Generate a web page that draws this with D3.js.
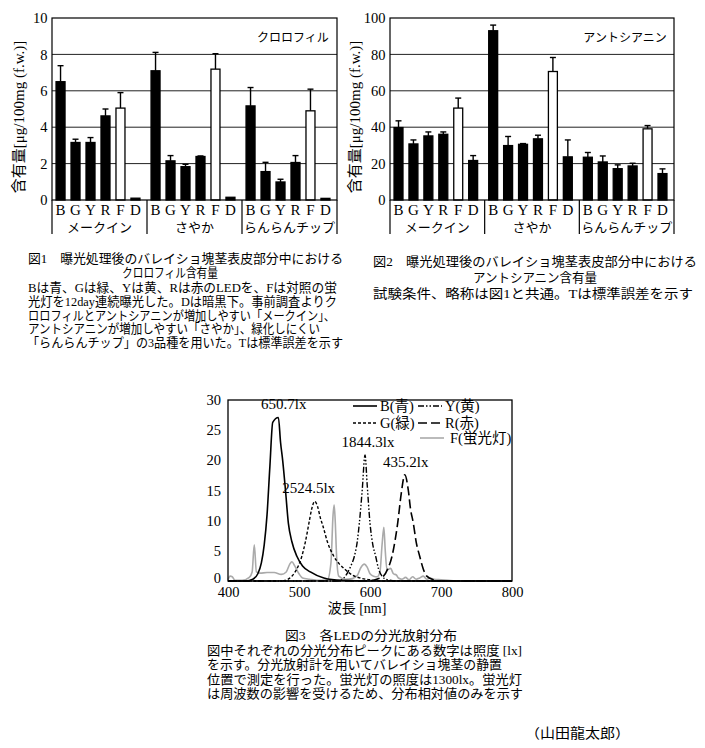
<!DOCTYPE html>
<html><head><meta charset="utf-8">
<script src="https://cdn.jsdelivr.net/npm/d3@7"></script>
<style>
body{margin:0;background:#fff;}
svg{display:block;}
text{fill:#000;}
</style></head>
<body>
<script>
// ---------- data ----------
const letters = ["B","G","Y","R","F","D"];
const varieties = ["メークイン","さやか","らんらんチップ"];

// chlorophyll µg/100mg f.w. (per variety, letters B G Y R F D)
const chlMean = [
  [6.5, 3.16, 3.16, 4.62, 5.05, 0.10],
  [7.1, 2.15, 1.83, 2.39, 7.19, 0.15],
  [5.17, 1.56, 0.99, 2.06, 4.9, 0.09]
];
const chlErr = [
  [0.88, 0.18, 0.27, 0.38, 0.85, 0],
  [1.01, 0.29, 0.13, 0.03, 0.85, 0],
  [1.01, 0.51, 0.15, 0.38, 1.19, 0]
];
// anthocyanin µg/100mg f.w.
const antMean = [
  [39.8, 30.8, 35.2, 36.1, 50.5, 21.7],
  [93.0, 29.9, 30.6, 33.6, 70.6, 23.7],
  [23.5, 20.9, 17.2, 18.7, 39.1, 14.5]
];
const antErr = [
  [3.7, 2.2, 2.2, 1.3, 5.5, 2.7],
  [3.1, 5.0, 0.4, 2.0, 7.7, 9.3],
  [2.6, 3.3, 2.1, 1.5, 1.8, 2.6]
];
const chlTicks = [0, 2, 4, 6, 8, 10];
const antTicks = [0, 20, 40, 60, 80, 100];

// spectral distribution [nm, relative value]
const specB = [[400,0],[425,0],[435,0.3],[442,1.2],[447,3],[451,6],[455,11],[459,19],[463,26.3],[471,27.1],[474,23],[477,20],[481,15],[485,9.6],[490,6.5],[497,4.1],[505,2.5],[516,1.5],[535,0.5],[560,0.1],[600,0],[800,0]];
const specG = [[400,0],[470,0],[480,0.1],[490,0.8],[497,2],[504,4.1],[509,6.5],[514,9.6],[518,12],[522,13.2],[526,12.4],[530,10.5],[534,9],[540,6.5],[549,4.1],[557,2.8],[565,1.9],[575,1.0],[586,0.5],[600,0.2],[620,0],[800,0]];
const specY = [[400,0],[550,0],[558,0.1],[567,1.1],[573,2.5],[578,4.1],[582,6.5],[585,9.6],[589,15],[593,20.9],[596,16],[600,9.6],[604,6],[608,4.1],[612,2],[617,0.8],[625,0.2],[640,0],[800,0]];
const specR = [[400,0],[590,0],[605,0.1],[612,0.4],[619,0.8],[625,2],[631,4.1],[635,6.5],[639,9.6],[644,14.5],[649,17.6],[654,15],[657,12],[661,9.6],[665,6.5],[670,4.1],[675,2],[680,0.8],[690,0.2],[700,0],[800,0]];
const specF = [[400,0.2],[403,0.8],[406,0.7],[410,0.1],[420,0.1],[430,0.6],[434,1.5],[437,6.0],[440,1.5],[445,1.3],[455,1.4],[465,1.4],[475,1.1],[482,1.5],[487,2.8],[490,3.2],[494,2.5],[500,1.2],[505,0.5],[515,0.3],[530,0.1],[540,0.2],[545,3],[548,11],[549.5,12.6],[551,10],[553,4],[556,0.8],[565,0.3],[575,0.4],[582,0.9],[587,2.2],[592,2.8],[596,2.3],[600,1.2],[605,0.8],[610,0.7],[614,1.5],[617,6],[619.5,8.9],[621.5,5],[624,1.8],[629,2.1],[633,1.2],[637,1.0],[640,0.5],[645,0.3],[650,0.6],[655,0.2],[660,0.7],[665,0.3],[670,0.5],[675,0.8],[680,0.3],[685,0.5],[690,0.3],[700,0.2],[710,0.1],[720,0],[800,0]];
const specSeries = ["B(青)","G(緑)","Y(黄)","R(赤)","F(蛍光灯)"];
const specPeakLabels = ["650.7lx","2524.5lx","1844.3lx","435.2lx"];
const specXTicks = [400,500,600,700,800];
const specYTicks = [0,5,10,15,20,25,30];

// ---------- drawing ----------
const SERIF = "'Liberation Serif','Noto Sans CJK JP',serif";
const JP = "'Liberation Serif','Noto Sans CJK JP',sans-serif";
const svg = d3.select("body").append("svg").attr("width",705).attr("height",748);
svg.append("rect").attr("width",705).attr("height",748).attr("fill","#fff");

function barChart(o){
  const g = svg.append("g");
  const y = d3.scaleLinear().domain([0,o.max]).range([o.bottom,o.top]);
  const gx = d3.scaleBand().domain(varieties).range([o.left,o.right]);
  const ix = d3.scaleBand().domain(letters).range([0,gx.bandwidth()-3]).paddingInner(0.4).paddingOuter(0.27);
  // grid
  g.selectAll(".grid").data(o.ticks.slice(1,-1)).join("line")
    .attr("x1",o.left).attr("x2",o.right).attr("y1",d=>y(d)).attr("y2",d=>y(d))
    .attr("stroke","#222").attr("stroke-width",1);
  // axis labels
  const ax = g.append("g").attr("transform",`translate(${o.left},0)`)
    .call(d3.axisLeft(y).tickValues(o.ticks).tickSize(0).tickPadding(4.5));
  ax.select(".domain").remove();
  ax.selectAll("text").attr("font-family",SERIF).attr("font-size",14.5).attr("fill","#000");
  // bars
  varieties.forEach((v,vi)=>{
    letters.forEach((L,li)=>{
      const val=o.mean[vi][li], err=o.err[vi][li];
      const bx=gx(v)+ix(L), bw=ix.bandwidth(), cx=bx+bw/2;
      if(err>0){
        g.append("line").attr("x1",cx).attr("x2",cx).attr("y1",y(val)).attr("y2",y(val+err)).attr("stroke","#000").attr("stroke-width",1.4);
        g.append("line").attr("x1",cx-3).attr("x2",cx+3).attr("y1",y(val+err)).attr("y2",y(val+err)).attr("stroke","#000").attr("stroke-width",1.4);
      }
      g.append("rect").attr("x",bx).attr("y",y(val)).attr("width",bw).attr("height",y(0)-y(val))
        .attr("fill",L==="F"?"#fff":"#000").attr("stroke","#000").attr("stroke-width",1.3);
      g.append("text").attr("x",cx).attr("y",o.bottom+15).attr("text-anchor","middle")
        .attr("font-family",SERIF).attr("font-size",15).text(L);
    });
    g.append("text").attr("x",gx(v)+gx.bandwidth()/2).attr("y",o.bottom+32).attr("text-anchor","middle")
      .attr("font-family",JP).attr("font-size",13).text(v);
  });
  // frame
  g.append("rect").attr("x",o.left).attr("y",o.top).attr("width",o.right-o.left).attr("height",o.bottom-o.top)
    .attr("fill","none").attr("stroke","#000").attr("stroke-width",1.2);
  // separators
  const seps=[o.left, ...varieties.slice(1).map(v=>gx(v)), o.right];
  g.selectAll(".sep").data(seps).join("line").attr("x1",d=>d).attr("x2",d=>d)
    .attr("y1",o.bottom).attr("y2",o.bottom+34).attr("stroke","#000").attr("stroke-width",1.2);
  // title inside
  g.append("text").attr("x",o.labelX).attr("y",o.top+24).attr("text-anchor","middle")
    .attr("font-family",JP).attr("font-size",12).text(o.label);
  // y label
  g.append("text").attr("transform",`translate(${o.ylabX},${(o.top+o.bottom)/2+8}) rotate(-90)`)
    .attr("text-anchor","middle").attr("font-family",JP).attr("font-size",15).attr("dy","0.35em")
    .text("含有量[μg/100mg (f.w.)]");
}

barChart({left:52,right:337,top:18,bottom:200,max:10,ticks:chlTicks,mean:chlMean,err:chlErr,label:"クロロフィル",labelX:293,ylabX:19});
barChart({left:390,right:674,top:18,bottom:200,max:100,ticks:antTicks,mean:antMean,err:antErr,label:"アントシアニン",labelX:625,ylabX:355});

// spectrum chart
(function(){
  const g = svg.append("g");
  const x = d3.scaleLinear().domain([400,800]).range([228,512]);
  const y = d3.scaleLinear().domain([0,30]).range([581,400]);
  const line = d3.line().x(d=>x(d[0])).y(d=>y(d[1])).curve(d3.curveMonotoneX);
  const styles = [
    {data:specB,stroke:"#000",dash:null,w:1.6},
    {data:specG,stroke:"#000",dash:"3,2",w:1.4},
    {data:specY,stroke:"#000",dash:"6,2,1.5,2,1.5,2",w:1.4},
    {data:specR,stroke:"#000",dash:"9,4",w:1.6},
    {data:specF,stroke:"#aaa",dash:null,w:1.6}
  ];
  [4,0,1,2,3].forEach(i=>{
    const s=styles[i];
    g.append("path").attr("d",line(s.data)).attr("fill","none").attr("stroke",s.stroke)
      .attr("stroke-width",s.w).attr("stroke-dasharray",s.dash);
  });
  g.append("rect").attr("x",228).attr("y",400).attr("width",284).attr("height",181)
    .attr("fill","none").attr("stroke","#000").attr("stroke-width",1.3);
  const xa = g.append("g").attr("transform","translate(0,581)").call(d3.axisBottom(x).tickValues(specXTicks).tickSize(0).tickPadding(6));
  xa.select(".domain").remove();
  xa.selectAll("text").attr("font-family",SERIF).attr("font-size",14.5).attr("fill","#000");
  const ya = g.append("g").attr("transform","translate(228,0)").call(d3.axisLeft(y).tickValues(specYTicks).tickSize(0).tickPadding(7));
  ya.select(".domain").remove();
  ya.selectAll("text").attr("font-family",SERIF).attr("font-size",14.5).attr("fill","#000");
  ya.selectAll(".tick").filter(d=>d===0).select("text").attr("dy","0.1em");
  g.append("text").attr("x",357).attr("y",613).attr("text-anchor","middle").attr("font-family",JP).attr("font-size",14).text("波長 [nm]");
  // peak labels
  const peaks=[[470,27.1],[522,13.2],[593,20.9],[649,17.6]];
  peaks.forEach((p,i)=>{
    g.append("text").attr("x",x(p[0])+[6,-6,3,1][i]).attr("y",y(p[1])-8).attr("text-anchor","middle")
      .attr("font-family",SERIF).attr("font-size",15).text(specPeakLabels[i]);
  });
  // legend
  const leg=[{i:0,x:353,y:406},{i:1,x:353,y:423},{i:2,x:418,y:406},{i:3,x:418,y:423},{i:4,x:420,y:438}];
  leg.forEach(l=>{
    const s=styles[l.i];
    g.append("line").attr("x1",l.x).attr("x2",l.x+24).attr("y1",l.y).attr("y2",l.y).attr("stroke",s.stroke)
      .attr("stroke-width",s.w).attr("stroke-dasharray",s.dash);
    g.append("text").attr("x",l.x+(l.i===4?30:27)).attr("y",l.y+5).attr("font-family",JP).attr("font-size",14.5).text(specSeries[l.i]);
  });
})();

// captions: [x, baseline y, text, width]
function lines(arr){
  arr.forEach(a=>{
    const t = svg.append("text").attr("x",a[0]).attr("y",a[1])
      .attr("font-family",JP).attr("font-size",a[4]||12.8).text(a[2]);
    if(a[3]) t.attr("textLength",a[3]).attr("lengthAdjust","spacingAndGlyphs");
  });
}
lines([
  [28,263,"図1　曝光処理後のバレイショ塊茎表皮部分中における",315],
  [122,277,"クロロフィル含有量",96],
  [28,292,"Bは青、Gは緑、Yは黄、Rは赤のLEDを、Fは対照の蛍",309],
  [28,306,"光灯を12day連続曝光した。Dは暗黒下。事前調査よりク",309],
  [28,320,"ロロフィルとアントシアニンが増加しやすい「メークイン」、",307],
  [28,333,"アントシアニンが増加しやすい「さやか」、緑化しにくい",292],
  [27,347,"「らんらんチップ」の3品種を用いた。Tは標準誤差を示す",316],
  [373,266,"図2　曝光処理後のバレイショ塊茎表皮部分中における",324],
  [473,282,"アントシアニン含有量",124],
  [373,298,"試験条件、略称は図1と共通。Tは標準誤差を示す",320],
  [285,640,"図3　各LEDの分光放射分布",172],
  [207,655,"図中それぞれの分光分布ピークにある数字は照度 [lx]",315],
  [207,669,"を示す。分光放射計を用いてバレイショ塊茎の静置",295],
  [207,684,"位置で測定を行った。蛍光灯の照度は1300lx。蛍光灯",315],
  [207,698,"は周波数の影響を受けるため、分布相対値のみを示す",316],
  [525,738,"（山田龍太郎）",105,13.5]
]);
</script>
</body></html>
